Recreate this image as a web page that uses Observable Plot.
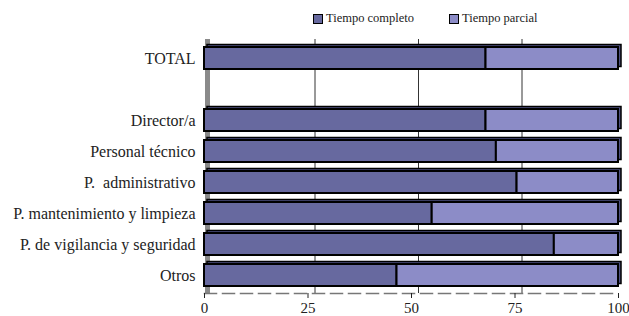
<!DOCTYPE html>
<html><head><meta charset="utf-8">
<script src="https://cdn.jsdelivr.net/npm/d3@7"></script>
<script src="https://cdn.jsdelivr.net/npm/@observablehq/plot@0.6"></script>
</head>
<body style="margin:0;background:#fff">
<div id="legend" style="position:relative;height:30px;font-size:12.5px;color:#222;font-family:'Liberation Serif'"></div>
<div id="chart"></div>
<script>
const categories = ["TOTAL","Director/a","Personal técnico","P.  administrativo","P. mantenimiento y limpieza","P. de vigilancia y seguridad","Otros"];
const fullTime = [68, 68, 70.5, 75.5, 55, 84.5, 46.5];
const partTime = [32, 32, 29.5, 24.5, 45, 15.5, 53.5];
const series = ["Tiempo completo","Tiempo parcial"];
const colors = ["#67699f","#8c8cc7"];
const xTicks = [0,25,50,75,100];

const yDomain = [categories[0], " ", ...categories.slice(1)];
const rows = [];
categories.forEach((c,i)=>{
  rows.push({cat:c, s:series[0], v:fullTime[i]});
  rows.push({cat:c, s:series[1], v:partTime[i]});
});
const totals = categories.map((c,i)=>({cat:c, v:fullTime[i]+partTime[i]}));

const leg = document.getElementById("legend");
const lx = [313, 449];
series.forEach((s,i)=>{
  const d = document.createElement("div");
  d.setAttribute("style", `position:absolute;top:11px;left:${lx[i]}px;display:flex;align-items:center;font-family:'Liberation Serif'`);
  d.innerHTML = `<span style="display:inline-block;width:8px;height:8px;border:1px solid #000;margin-right:3px;background:${colors[i]}"></span><span style="font-family:'Liberation Serif'">${s}</span>`;
  leg.appendChild(d);
});

const chart = Plot.plot({
  width: 629, height: 286,
  marginTop: 9, marginBottom: 23, marginLeft: 204, marginRight: 11,
  style:{fontSize:"14px", color:"#222", background:"#fff", overflow:"visible"},
  x:{domain:[0,100], ticks:xTicks, label:null},
  y:{domain:yDomain, label:null, paddingInner:0.3, paddingOuter:0.15},
  color:{domain:series, range:colors},
  marks:[
    Plot.ruleX(xTicks.slice(1,4), {stroke:"#000", strokeWidth:0.8, dx:7}),
    Plot.ruleX([0], {stroke:"#8a8a8a", strokeWidth:5, dx:3}),
    Plot.frame({anchor:"bottom", stroke:"#777", strokeWidth:1.5, strokeDasharray:"12,6"}),
    Plot.barX(totals, {y:"cat", x:"v", fill:"#4f5283", stroke:"#000", strokeWidth:1.5, dx:3, dy:-2.5}),
    Plot.barX(rows, Plot.stackX({y:"cat", x:"v", fill:"s", stroke:"#000", strokeWidth:2, order:series})),
    Plot.axisX({ticks:xTicks, tickSize:5, tickPadding:4, fontSize:15}),
    Plot.axisY({tickSize:0, tickPadding:9, fontSize:16, tickFormat:d=>d.trim()})
  ]
});
chart.setAttribute("font-family","Liberation Serif");
chart.style.fontFamily = "'Liberation Serif'";
document.getElementById("chart").appendChild(chart);
</script>
</body></html>
